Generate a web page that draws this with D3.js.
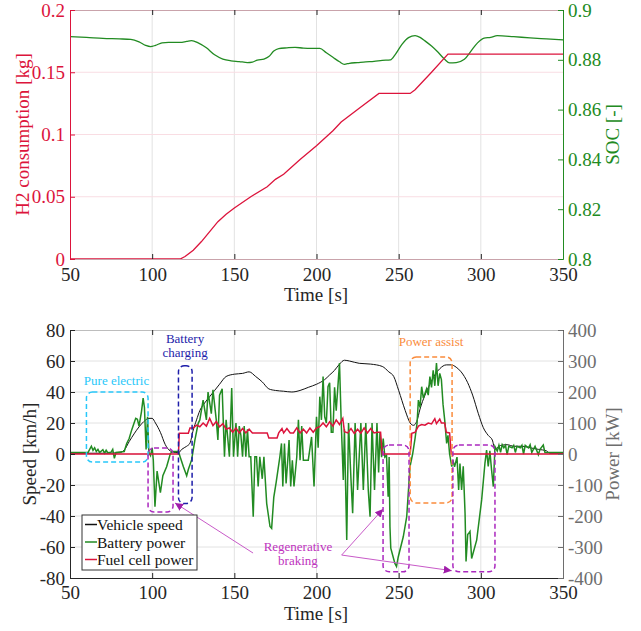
<!DOCTYPE html>
<html>
<head>
<meta charset="utf-8">
<script src="https://cdn.jsdelivr.net/npm/d3@7"></script>
<style>
  body { margin: 0; background: #fff; }
  svg { font-family: "Liberation Serif", "Times New Roman", Times, serif; }
</style>
</head>
<body>
<script>
// ---- data ----
var h2Time = [50, 117, 120, 125, 130, 135, 140, 145, 150, 160, 170, 175, 180, 190, 200, 210, 215, 226, 238, 257, 260, 270, 280, 350];
var h2Value = [0, 0, 0.002, 0.007, 0.014, 0.022, 0.030, 0.036, 0.041, 0.050, 0.058, 0.064, 0.068, 0.080, 0.091, 0.103, 0.110, 0.121, 0.133, 0.133, 0.136, 0.150, 0.1646, 0.1646];

var socTime = [50, 60, 70, 80, 87, 92, 96, 99, 102, 106, 110, 117, 121, 124, 128, 133, 138, 143, 148, 153, 158, 161, 164, 168, 171, 174, 177, 182, 187, 192, 197, 202, 206, 210, 214, 217, 220, 225, 230, 235, 240, 245, 248, 252, 256, 260, 263, 266, 270, 274, 278, 281, 285, 290, 294, 298, 302, 306, 310, 320, 330, 340, 350];
var socValue = [0.8893, 0.889, 0.8886, 0.8884, 0.8882, 0.8872, 0.8858, 0.8853, 0.8858, 0.8868, 0.887, 0.887, 0.8874, 0.8877, 0.8868, 0.8848, 0.882, 0.8803, 0.8796, 0.8793, 0.8789, 0.8791, 0.8799, 0.8803, 0.8813, 0.8835, 0.8845, 0.8848, 0.885, 0.8847, 0.8846, 0.8846, 0.8828, 0.881, 0.8792, 0.8782, 0.8786, 0.8789, 0.8792, 0.8794, 0.8798, 0.880, 0.8822, 0.8862, 0.8889, 0.8897, 0.889, 0.8876, 0.8855, 0.883, 0.8802, 0.8788, 0.8789, 0.8802, 0.8835, 0.8868, 0.8887, 0.889, 0.8897, 0.8893, 0.8888, 0.8884, 0.888];

var speedTime = [50, 60, 70, 80, 83, 86, 89, 92, 95, 98, 100, 102, 105, 108, 111, 114, 116, 118, 121, 123, 125, 127, 129, 132, 135, 138, 141, 145, 150, 155, 159, 163, 167, 171, 175, 180, 185, 190, 195, 200, 205, 208, 211, 214, 217, 220, 226, 233, 240, 244, 247, 250, 254, 257, 259, 261, 263, 266, 269, 272, 275, 279, 282, 285, 288, 292, 295, 298.5, 301.5, 304.5, 307, 308.6, 310, 312, 316, 320, 325, 330, 335, 340, 342, 350];
var speedValue = [0.5, 0.5, 0.5, 0.8, 2.5, 8, 13, 17.5, 21, 23, 23, 20, 14, 6, 2, 1, 0.8, 3, 5, 7, 15.5, 22, 28, 33, 37, 41, 45, 50, 51.5, 52, 53, 50, 46.5, 42, 41, 40.5, 40, 41, 43, 45, 48, 51, 54, 58, 60.5, 60, 58.5, 58, 56.5, 53, 50, 41, 28, 20, 18.5, 21, 29, 38, 45, 51, 55, 57.5, 57.5, 56, 53, 46, 38, 26, 17, 12, 9, 3, 4, 5.5, 6, 5, 5, 4, 3, 2, 0.5, 0.5];

var fcTime = [50, 116, 116.5, 122, 123, 125, 127, 129, 131, 133, 135, 137, 139, 141, 143, 145, 147, 149, 151, 153, 155, 157, 159, 161, 170, 171, 176, 177, 179, 180, 182, 184, 186, 188, 190, 192, 194, 196, 198, 200, 202, 204, 206, 208, 210, 212, 214, 216, 217, 219, 221, 223, 225, 227, 229, 231, 233, 235, 237, 239, 240, 257, 258, 260, 262, 264, 266, 268, 270, 272, 273, 275, 276, 278, 279, 281, 282, 350];
var fcPower = [0, 0, 67, 67, 84, 84, 93, 88, 100, 90, 115, 92, 105, 88, 98, 80, 84, 70, 84, 68, 82, 68, 80, 68, 68, 52, 52, 68, 82, 68, 82, 68, 68, 84, 68, 80, 68, 84, 70, 84, 88, 100, 88, 104, 90, 110, 95, 115, 72, 68, 82, 66, 80, 67, 84, 68, 82, 68, 70, 70, 0, 0, 67, 70, 90, 95, 93, 100, 97, 114, 98, 113, 100, 100, 70, 68, 0, 0];

var batTime = [50, 58, 61, 63, 64, 65, 66, 67, 68, 70, 71, 72, 73, 75, 76, 77, 78, 83, 84.5, 86, 87.5, 89, 90, 91, 92, 93.5, 94.5, 95.3, 96.3, 97.2, 98, 99, 100, 100.7, 101.7, 103, 105, 106.5, 108.8, 111, 112, 116, 117, 119, 121, 122, 124, 126, 128, 129, 131, 133, 134, 136, 137, 139, 140, 141, 142.6, 144, 145, 147, 148.4, 149.5, 151, 152, 153, 154, 155, 156, 157, 158, 159, 160, 161.5, 162.5, 163.5, 164.5, 165.5, 167, 168, 169.7, 171.7, 172.7, 174, 175.5, 177.7, 178.7, 179.5, 180.5, 181.5, 182.5, 183.3, 184.3, 185.3, 186.3, 188, 189, 190, 191, 192, 195, 197, 198.5, 200, 201, 202, 203, 204, 205, 206, 207, 208, 209, 210, 211, 212, 214, 215, 216.3, 217, 218.4, 219.5, 221, 222, 223.5, 225, 227, 228.5, 230, 231.5, 232.6, 233.8, 235.3, 236.8, 237.8, 238.6, 239.6, 240.6, 241.6, 242.6, 243.6, 244.2, 244.7, 245.2, 247.7, 248.7, 249.7, 252.8, 254.9, 256.9, 258.5, 260, 261.2, 262, 263, 264, 265, 267, 268, 269, 270, 271, 272, 273, 274, 275, 276, 277, 278, 279.2, 280, 281, 282.3, 283, 284, 285.5, 286.5, 287.3, 288.3, 289.3, 290.4, 291, 292, 293, 293.4, 294.4, 297.5, 300.5, 302.5, 303.5, 304.5, 305.5, 306.5, 307.6, 308.6, 310, 311, 312, 313, 314, 315, 316, 317, 319, 320, 321, 322, 324, 325, 326, 327, 329, 330, 331, 333, 335, 336, 338, 339, 340, 350];
var batPower = [5, 5, 5, 25, 12, 20, 8, 15, 5, 14, 3, 12, 4, 6, 15, -14, 5, 8, 34, 50, 77, 100, 115, 112, 90, 137, 180, 150, 15, 120, 5, -5, 20, -20, -170, -55, -125, -70, -41, 0, 8, 8, -9, -41, -70, -50, -19, 45, 99, 110, 174, 110, 200, 130, 207, 110, 45, 190, 210, -9, 110, -9, 213, -9, 100, -9, 90, 60, -9, 90, -9, 80, -9, -9, -202, -9, -9, -105, -9, -80, -9, -160, -234, -240, -140, -90, -9, 34, -105, 34, -95, -20, 45, -105, -20, -105, -9, 110, -20, 90, -20, -20, 55, -105, 120, 20, 185, 110, 250, 120, 100, 217, 230, 70, 70, 215, 140, 293, 110, -84, 80, -277, 100, -84, -191, 100, -116, 100, -116, 100, -116, -202, 100, -116, 100, -60, 68, -10, 50, -10, -5, -138, -10, -234, -304, -353, -363, -333, -267, -202, -41, 0, 51, 100, 174, 150, 217, 180, 210, 190, 250, 215, 270, 220, 293, 220, 260, 240, 160, 110, 34, 60, 0, -41, -20, -41, -10, -116, -31, -116, -40, -191, -347, -260, -253, -250, -337, -277, -148, -30, 13, -40, 10, -50, -105, 24, 10, 28, 5, 30, 20, 28, -2, 25, 20, 28, 5, 25, 20, 28, 0, 28, 20, 30, 5, 25, -2, 15, 29, 5, 5, 5];

var timeTicks = [50, 100, 150, 200, 250, 300, 350];
var h2Ticks = [0, 0.05, 0.1, 0.15, 0.2];
var socTicks = [0.8, 0.82, 0.84, 0.86, 0.88, 0.9];
var speedTicks = [-80, -60, -40, -20, 0, 20, 40, 60, 80];
var powerTicks = [-400, -300, -200, -100, 0, 100, 200, 300, 400];

var legendNames = ["Vehicle speed", "Battery power", "Fuel cell power"];

var w = 641, h = 631;
var red = "rgb(220,20,60)", green = "rgb(34,139,34)", gray = "rgb(110,110,110)";
var fs = 19;
var serif = "'Liberation Serif', 'Times New Roman', Times, serif";

var svg = d3.select("body").append("svg").attr("width", w).attr("height", h);

var x = d3.scaleLinear().domain([50, 350]).range([70, 563]);
var yH2 = d3.scaleLinear().domain([0, 0.2]).range([259, 10]);
var ySoc = d3.scaleLinear().domain([0.8, 0.9]).range([259, 10]);
var ySpeed = d3.scaleLinear().domain([-80, 80]).range([578, 330]);
var yPow = d3.scaleLinear().domain([-400, 400]).range([578, 330]);

function zip(ts, vs) { return ts.map(function(t, i) { return [t, vs[i]]; }); }

function styleAxis(g, color) {
  g.attr("font-family", serif);
  g.select(".domain").attr("stroke", color);
  g.selectAll(".tick line").attr("stroke", color);
  g.selectAll("text").attr("fill", color).attr("font-size", fs);
}

// ---------------- top panel ----------------
var topG = svg.append("g");
// grid
topG.selectAll(".vg").data(timeTicks.slice(1, -1)).enter().append("line")
  .attr("x1", d => x(d)).attr("x2", d => x(d)).attr("y1", 10).attr("y2", 259)
  .attr("stroke", "#e2e2e2");
topG.selectAll(".hg").data(h2Ticks.slice(1, -1)).enter().append("line")
  .attr("x1", 70).attr("x2", 563).attr("y1", d => yH2(d)).attr("y2", d => yH2(d))
  .attr("stroke", "#f9dde3");

topG.append("path").datum(zip(socTime, socValue))
  .attr("fill", "none").attr("stroke", green).attr("stroke-width", 1.3)
  .attr("d", d3.line().x(d => x(d[0])).y(d => ySoc(d[1])).curve(d3.curveMonotoneX));
topG.append("path").datum(zip(h2Time, h2Value))
  .attr("fill", "none").attr("stroke", red).attr("stroke-width", 1.3)
  .attr("d", d3.line().x(d => x(d[0])).y(d => yH2(d[1])));

topG.append("g").attr("transform", "translate(0,259)")
  .call(d3.axisBottom(x).tickValues(timeTicks).tickSize(-5).tickPadding(9))
  .call(g => styleAxis(g, "#c9a3ab"))
  .call(g => g.selectAll(".tick line").attr("stroke", "#222"))
  .call(g => g.selectAll("text").attr("fill", "#262626"));
topG.append("g").attr("transform", "translate(0,10)")
  .call(d3.axisTop(x).tickValues(timeTicks).tickSize(-5).tickFormat(""))
  .call(g => styleAxis(g, "#c9a3ab"))
  .call(g => g.selectAll(".tick line").attr("stroke", "#222"));
topG.append("g").attr("transform", "translate(70,0)")
  .call(d3.axisLeft(yH2).tickValues(h2Ticks).tickSize(-5).tickPadding(5).tickFormat(d => d === 0 ? "0" : String(d)))
  .call(g => styleAxis(g, red));
topG.append("g").attr("transform", "translate(563,0)")
  .call(d3.axisRight(ySoc).tickValues(socTicks).tickSize(-5).tickPadding(5).tickFormat(d => String(+d.toFixed(2))))
  .call(g => styleAxis(g, green));

topG.append("text").attr("x", 316).attr("y", 301).attr("text-anchor", "middle")
  .attr("font-size", fs).attr("fill", "#262626").text("Time [s]");
topG.append("text").attr("transform", "translate(29,134.5) rotate(-90)").attr("text-anchor", "middle")
  .attr("font-size", fs).attr("fill", red).text("H2 consumption [kg]");
topG.append("text").attr("transform", "translate(619,134.5) rotate(-90)").attr("text-anchor", "middle")
  .attr("font-size", fs).attr("fill", green).text("SOC [-]");

// ---------------- bottom panel ----------------
var bot = svg.append("g");
bot.selectAll(".vg").data(timeTicks.slice(1, -1)).enter().append("line")
  .attr("x1", d => x(d)).attr("x2", d => x(d)).attr("y1", 330).attr("y2", 578)
  .attr("stroke", "#e2e2e2");
bot.selectAll(".hg").data(speedTicks.slice(1, -1)).enter().append("line")
  .attr("x1", 70).attr("x2", 563).attr("y1", d => ySpeed(d)).attr("y2", d => ySpeed(d))
  .attr("stroke", "#e2e2e2");

bot.append("path").datum(zip(speedTime, speedValue))
  .attr("fill", "none").attr("stroke", "#111").attr("stroke-width", 1)
  .attr("d", d3.line().x(d => x(d[0])).y(d => ySpeed(d[1])).curve(d3.curveMonotoneX));
bot.append("path").datum(zip(batTime, batPower))
  .attr("fill", "none").attr("stroke", green).attr("stroke-width", 1.5)
  .attr("d", d3.line().x(d => x(d[0])).y(d => yPow(d[1])));
bot.append("path").datum(zip(fcTime, fcPower))
  .attr("fill", "none").attr("stroke", red).attr("stroke-width", 1.5)
  .attr("d", d3.line().x(d => x(d[0])).y(d => yPow(d[1])));

bot.append("g").attr("transform", "translate(0,578)")
  .call(d3.axisBottom(x).tickValues(timeTicks).tickSize(-5).tickPadding(8))
  .call(g => styleAxis(g, "#262626"));
bot.append("g").attr("transform", "translate(0,330)")
  .call(d3.axisTop(x).tickValues(timeTicks).tickSize(-5).tickFormat(""))
  .call(g => styleAxis(g, "#bdbdbd"))
  .call(g => g.selectAll(".tick line").attr("stroke", "#262626"));
bot.append("g").attr("transform", "translate(70,0)")
  .call(d3.axisLeft(ySpeed).tickValues(speedTicks).tickSize(-5).tickPadding(5))
  .call(g => styleAxis(g, "#262626"));
bot.append("g").attr("transform", "translate(563,0)")
  .call(d3.axisRight(yPow).tickValues(powerTicks).tickSize(-5).tickPadding(5))
  .call(g => styleAxis(g, gray));
// use hyphen minus like the original
svg.selectAll(".tick text").text(function() { return d3.select(this).text().replace("\u2212", "-"); });

bot.append("text").attr("x", 316).attr("y", 620).attr("text-anchor", "middle")
  .attr("font-size", fs).attr("fill", "#262626").text("Time [s]");
bot.append("text").attr("transform", "translate(36,454) rotate(-90)").attr("text-anchor", "middle")
  .attr("font-size", fs).attr("fill", "#262626").text("Speed [km/h]");
bot.append("text").attr("transform", "translate(619,454) rotate(-90)").attr("text-anchor", "middle")
  .attr("font-size", fs).attr("fill", gray).text("Power [kW]");

// ---- annotations (boxes in data coordinates: time / speed) ----
function box(t0, t1, s0, s1, color) {
  bot.append("rect")
    .attr("x", x(t0)).attr("y", ySpeed(s1))
    .attr("width", x(t1) - x(t0)).attr("height", ySpeed(s0) - ySpeed(s1))
    .attr("rx", 6).attr("fill", "none").attr("stroke", color)
    .attr("stroke-width", 1.5).attr("stroke-dasharray", "5,3");
}
function label(t, s, txt, color) {
  bot.append("text").attr("x", x(t)).attr("y", ySpeed(s)).attr("text-anchor", "middle")
    .attr("font-size", 13).attr("fill", color).text(txt);
}
var cyan = "rgb(40,200,250)", blue = "rgb(30,30,170)", purple = "rgb(170,40,190)", orange = "rgb(250,140,60)", magenta = "rgb(190,50,190)";

box(60, 97.5, -5.2, 40, cyan);
box(116, 124.3, -32, 57, blue);
box(97.5, 112.7, -37.4, 3.9, purple);
box(257, 282.5, -31.6, 62.6, orange);
box(240.5, 256.3, -76, 5.8, purple);
box(283, 308.6, -76, 5.8, purple);

label(78.3, 44.5, "Pure electric", cyan);
label(120, 71.6, "Battery", blue);
label(120, 62.6, "charging", blue);
label(269.7, 69.7, "Power assist", orange);
label(188.7, -62.6, "Regenerative", magenta);
label(188.7, -71.6, "braking", magenta);

svg.append("defs").append("marker").attr("id", "ah")
  .attr("viewBox", "0 0 10 10").attr("refX", 10).attr("refY", 5)
  .attr("markerWidth", 8).attr("markerHeight", 8).attr("orient", "auto")
  .attr("markerUnits", "userSpaceOnUse")
  .append("path").attr("d", "M0,0L10,5L0,10z").attr("fill", "rgb(160,30,170)");

var arrows = [[161.4, -63.9, 113.9, -31.6], [215.3, -65.2, 240.5, -35.5], [215.3, -65.2, 282.3, -75.3]];
arrows.forEach(function(a) {
  bot.append("line").attr("x1", x(a[0])).attr("y1", ySpeed(a[1])).attr("x2", x(a[2])).attr("y2", ySpeed(a[3]))
    .attr("stroke", "rgb(200,90,200)").attr("stroke-width", 1).attr("marker-end", "url(#ah)");
});

// ---- legend ----
var lg = bot.append("g");
lg.append("rect").attr("x", 82).attr("y", 515).attr("width", 115).attr("height", 55)
  .attr("fill", "#fff").attr("stroke", "#333").attr("stroke-width", 1);
var legendColors = ["#111", green, red];
legendNames.forEach(function(n, i) {
  var yy = 524.5 + i * 17.5;
  lg.append("line").attr("x1", 85).attr("x2", 97).attr("y1", yy).attr("y2", yy)
    .attr("stroke", legendColors[i]).attr("stroke-width", 1.5);
  lg.append("text").attr("x", 97).attr("y", yy + 5.5).attr("font-size", 15.5)
    .attr("fill", "#111").text(n);
});
</script>
</body>
</html>
